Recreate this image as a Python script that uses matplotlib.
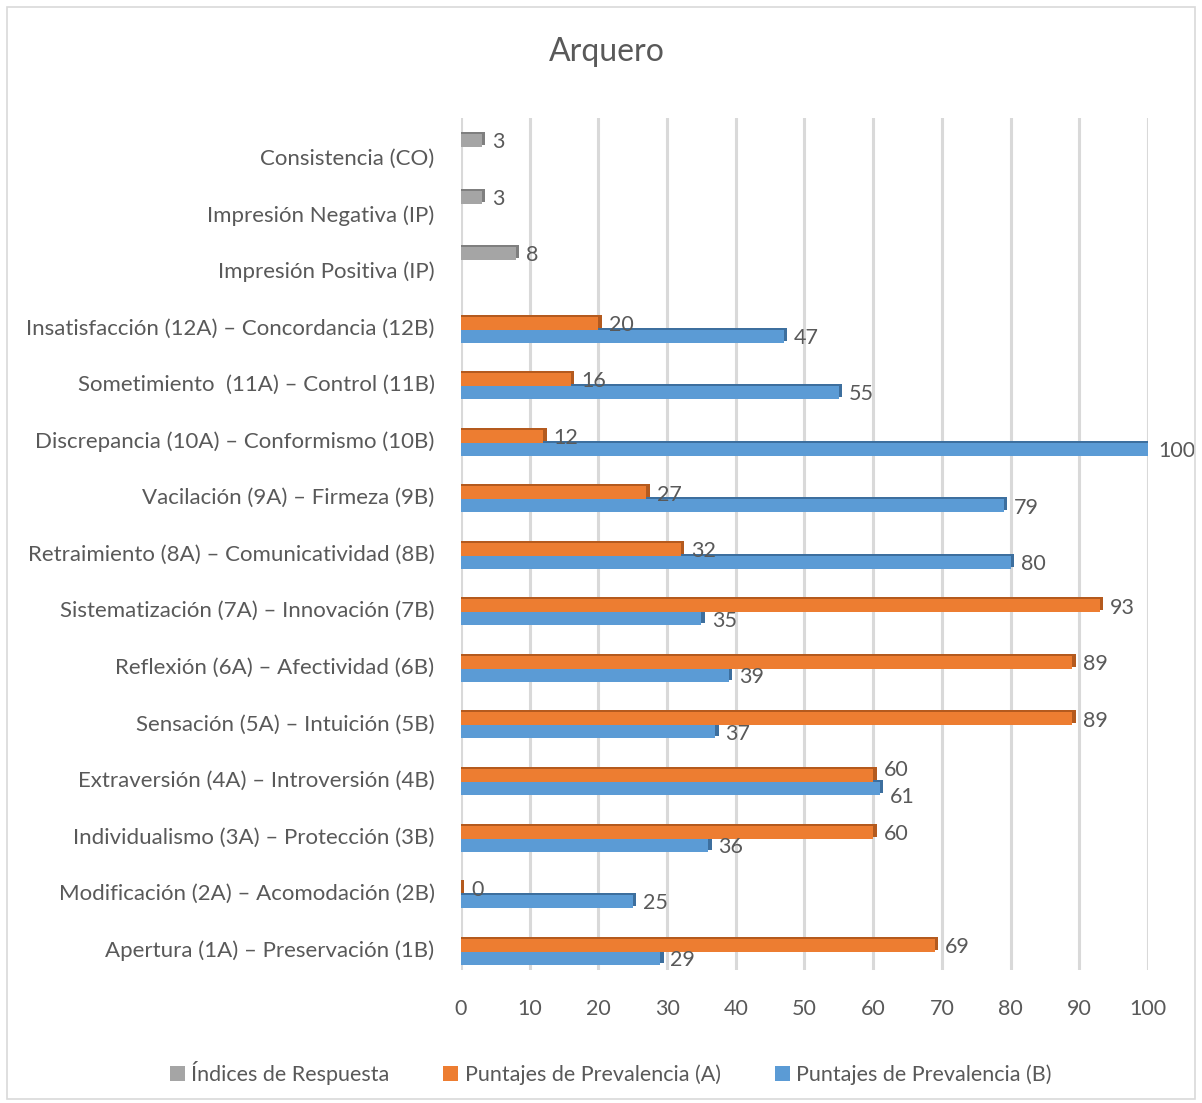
import numpy as np
import matplotlib.pyplot as plt
from matplotlib.patches import Rectangle

plt.rcParams['font.family'] = ['Lato', 'DejaVu Sans']

# categories, bottom to top
categories = [
    "Apertura (1A) – Preservación (1B)",
    "Modificación (2A) – Acomodación (2B)",
    "Individualismo (3A) – Protección (3B)",
    "Extraversión (4A) – Introversión (4B)",
    "Sensación (5A) – Intuición (5B)",
    "Reflexión (6A) – Afectividad (6B)",
    "Sistematización (7A) – Innovación (7B)",
    "Retraimiento (8A) – Comunicatividad (8B)",
    "Vacilación (9A) – Firmeza (9B)",
    "Discrepancia (10A) – Conformismo (10B)",
    "Sometimiento  (11A) – Control (11B)",
    "Insatisfacción (12A) – Concordancia (12B)",
    "Impresión Positiva (IP)",
    "Impresión Negativa (IP)",
    "Consistencia (CO)",
]
indices = [None] * 12 + [8, 3, 3]
prev_a = [69, 0, 60, 60, 89, 89, 93, 32, 27, 12, 16, 20, None, None, None]
prev_b = [29, 25, 36, 61, 37, 39, 35, 80, 79, 100, 55, 47, None, None, None]

series = [
    ("Índices de Respuesta", indices, "#a5a5a5", "#7f7f7f", 0.29, 0),
    ("Puntajes de Prevalencia (A)", prev_a, "#ed7d31", "#b45a1e", 0.06, 1),
    ("Puntajes de Prevalencia (B)", prev_b, "#5b9bd5", "#3d6f9e", -0.17, -1),
]

txt = "#595959"
fig = plt.figure(figsize=(12.02, 11.03), dpi=100)
ax = fig.add_axes([0.3835, 0.1206, 0.5715, 0.7724])

y = np.arange(len(categories))
h = 0.23
for name, vals, col, dark, off, side in series:
    idx = [i for i, v in enumerate(vals) if v is not None]
    v = np.array([vals[i] for i in idx], dtype=float)
    pos = y[idx] + off
    # darker copy behind for the 3D side/top faces
    ax.barh(pos + 0.035, v + 0.5, height=h, color=dark, zorder=2)
    ax.barh(pos, v, height=h, color=col, zorder=3, label=name)
    for i, p, val in zip(idx, pos, v):
        dy = -0.03
        # spread labels apart when A and B end close together
        if side and prev_a[i] is not None and abs(prev_a[i] - prev_b[i]) < 6:
            dy += 0.12 * side
        ax.text(val + 1.5, p + dy, f"{val:g}", va="center", ha="left",
                fontsize=15.5, color=txt, zorder=4)

ax.set_xlim(0, 100)
ax.set_ylim(-0.38, 14.69)
ax.set_xticks(range(0, 101, 10))
ax.set_yticks(y)
ax.set_yticklabels(categories)
ax.grid(axis="x", color="#d9d9d9", linewidth=2.2, zorder=0)
ax.set_axisbelow(True)
for s in ax.spines.values():
    s.set_visible(False)
ax.tick_params(axis="both", length=0, labelsize=15.5, labelcolor=txt)
ax.tick_params(axis="y", labelsize=16, pad=19)
ax.tick_params(axis="x", pad=21)

fig.text(0.505, 0.953, "Arquero", ha="center", va="center", fontsize=23, color=txt)

handles, labels = ax.get_legend_handles_labels()
fig.legend(handles, labels, loc="center", bbox_to_anchor=(0.508, 0.027), ncol=3,
           frameon=False, fontsize=15.5, labelcolor=txt, handlelength=0.7,
           handleheight=0.7, handletextpad=0.3, columnspacing=2.5)

fig.patches.append(Rectangle((0.006, 0.004), 0.988, 0.99, transform=fig.transFigure,
                             fill=False, edgecolor="#d9d9d9", linewidth=1.2))

fig.savefig("out.png", dpi=100)
